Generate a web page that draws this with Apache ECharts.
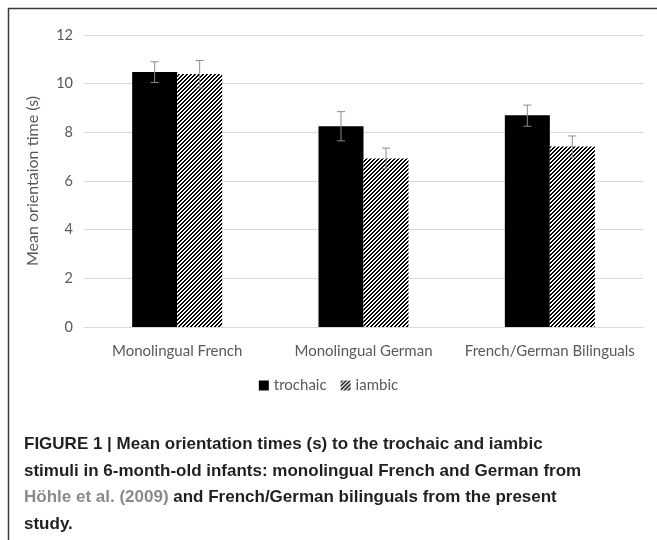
<!DOCTYPE html>
<html>
<head>
<meta charset="utf-8">
<style>
html,body{margin:0;padding:0;background:#fff;}
#chart{width:657px;height:540px;}
</style>
<script src="https://cdn.jsdelivr.net/npm/echarts@6/dist/echarts.min.js"></script>
</head>
<body>
<div id="chart"></div>
<script>
const categories = ['Monolingual French', 'Monolingual German', 'French/German Bilinguals'];
const trochaic = [10.48, 8.25, 8.7];
const iambic = [10.4, 6.92, 7.42];
const trochaicErrLow = [10.05, 7.65, 8.25];
const trochaicErrHigh = [10.9, 8.85, 9.12];
const iambicErrLow = [9.82, 6.5, 6.98];
const iambicErrHigh = [10.95, 7.35, 7.85];
const yTicks = [0, 2, 4, 6, 8, 10, 12];

function makeHatch() {
  const c = document.createElement('canvas');
  c.width = 4; c.height = 4;
  const ctx = c.getContext('2d');
  ctx.fillStyle = '#fff';
  ctx.fillRect(0, 0, 4, 4);
  ctx.fillStyle = '#000';
  for (let x = 0; x < 4; x++) {
    for (let y = 0; y < 4; y++) {
      if ((x + y) % 4 < 2) ctx.fillRect(x, y, 1, 1);
    }
  }
  return c;
}
const hatch = makeHatch();

const BAR_W = 45;
const errData = [];
categories.forEach((c, i) => {
  errData.push([i, trochaicErrLow[i], trochaicErrHigh[i], -1]);
  errData.push([i, iambicErrLow[i], iambicErrHigh[i], 1]);
});

const chart = echarts.init(document.getElementById('chart'));
const labelFont = 'Lato, "Open Sans", sans-serif';
chart.setOption({
  animation: false,
  grid: { left: 84, right: 14, top: 35, bottom: 213, containLabel: false },
  legend: {
    top: 373, left: 'center',
    itemWidth: 10, itemHeight: 10, itemGap: 14,
    textStyle: { color: '#595959', fontSize: 15, fontFamily: labelFont },
    data: [
      { name: 'trochaic', icon: 'rect' },
      { name: 'iambic', icon: 'rect' }
    ]
  },
  xAxis: {
    type: 'category',
    data: categories,
    axisLine: { lineStyle: { color: '#d9d9d9', width: 1 } },
    axisTick: { show: false },
    axisLabel: { color: '#595959', fontSize: 15, fontFamily: labelFont, margin: 17, interval: 0 }
  },
  yAxis: {
    type: 'value',
    min: yTicks[0], max: yTicks[yTicks.length - 1], interval: 2,
    name: 'Mean orientaion time (s)',
    nameLocation: 'middle', nameGap: 43, nameRotate: 90,
    nameTextStyle: { color: '#595959', fontSize: 16, fontFamily: labelFont },
    axisLine: { show: false },
    axisTick: { show: false },
    axisLabel: { color: '#595959', fontSize: 14.5, fontFamily: labelFont, margin: 11 },
    splitLine: { lineStyle: { color: '#d9d9d9', width: 1 } }
  },
  series: [
    {
      name: 'trochaic', type: 'bar', data: trochaic,
      barWidth: BAR_W, barGap: '0%',
      itemStyle: { color: '#000' }
    },
    {
      name: 'iambic', type: 'bar', data: iambic,
      barWidth: BAR_W, barGap: '0%',
      itemStyle: { color: { image: hatch, repeat: 'repeat' } }
    },
    {
      type: 'custom', name: 'err', data: errData, z: 10,
      renderItem: function (params, api) {
        const idx = api.value(0);
        const lo = api.coord([idx, api.value(1)]);
        const hi = api.coord([idx, api.value(2)]);
        const x = lo[0] + api.value(3) * BAR_W / 2;
        const cap = 4;
        const style = { stroke: '#8c8c8c', lineWidth: 1 };
        return {
          type: 'group',
          children: [
            { type: 'line', shape: { x1: x, y1: lo[1], x2: x, y2: hi[1] }, style: style },
            { type: 'line', shape: { x1: x - cap, y1: lo[1], x2: x + cap, y2: lo[1] }, style: style },
            { type: 'line', shape: { x1: x - cap, y1: hi[1], x2: x + cap, y2: hi[1] }, style: style }
          ]
        };
      },
      encode: { x: 0, y: [1, 2] },
      silent: true
    }
  ],
  graphic: [
    { type: 'line', shape: { x1: 8, y1: 8.5, x2: 657, y2: 8.5 }, style: { stroke: '#3a3a3a', lineWidth: 1.5 } },
    { type: 'line', shape: { x1: 8.5, y1: 8, x2: 8.5, y2: 540 }, style: { stroke: '#3a3a3a', lineWidth: 1.5 } },
    {
      type: 'text', left: 24, top: 436,
      style: {
        text: '{b|FIGURE 1 | Mean orientation times (s) to the trochaic and iambic}\n{b|stimuli in 6-month-old infants: monolingual French and German from}\n{g|Höhle et al. (2009)}{b| and French/German bilinguals from the present}\n{b|study.}',
        rich: {
          b: { fontFamily: '"Liberation Sans", Arial, sans-serif', fontWeight: 'bold', fontSize: 17, fill: '#231f20', lineHeight: 26.5 },
          g: { fontFamily: '"Liberation Sans", Arial, sans-serif', fontWeight: 'bold', fontSize: 17, fill: '#8a8a8a', lineHeight: 26.5 }
        }
      }
    }
  ]
});
</script>
</body>
</html>
